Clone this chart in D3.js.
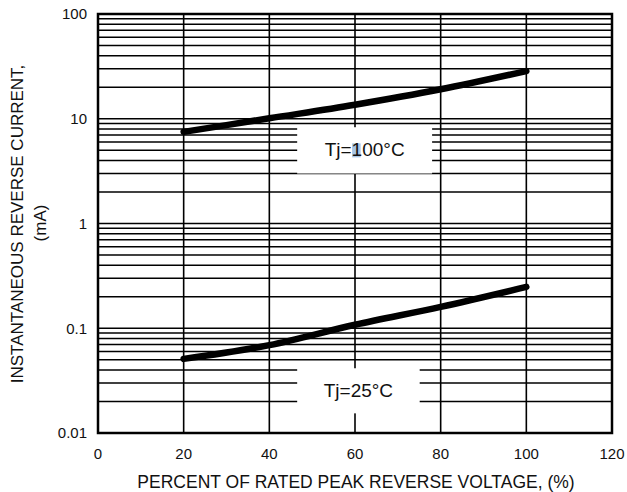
<!DOCTYPE html>
<html>
<head>
<meta charset="utf-8">
<script src="https://cdn.jsdelivr.net/npm/d3@7"></script>
<style>
    body { margin: 0; background: #fff; }
    text { font-family: Arial, "Liberation Sans", sans-serif; fill: #111; }
</style>
</head>
<body>
<div id="chart"></div>
<script>
// x axis ticks (percent of rated peak reverse voltage)
const xTicks = [0, 20, 40, 60, 80, 100, 120];
const yTicks = [0.01, 0.1, 1, 10, 100];
const yTickLabels = ["0.01", "0.1", "1", "10", "100"];

// curves
const percent = [20, 40, 60, 80, 100];
const current100 = [7.5, 10.1, 13.6, 19.1, 28.5];
const current25 = [0.051, 0.069, 0.108, 0.160, 0.248];

// label boxes, in data units: [x0, x1, yTop, yBottom]
const labels = ["Tj=100°C", "Tj=25°C"];
const labelBoxes = [[46.5, 78, 8.3, 3.0], [46.5, 75.1, 0.0415, 0.0154]];

function drawChart() {
    const totalW = 627, totalH = 492;
    const margin = { top: 14, right: 15, bottom: 59, left: 98 };
    const width = totalW - margin.left - margin.right;
    const height = totalH - margin.top - margin.bottom;

    const svg = d3.select("#chart")
        .append("svg")
        .attr("width", totalW)
        .attr("height", totalH);

    const g = svg.append("g")
        .attr("transform", "translate(" + margin.left + "," + margin.top + ")");

    const xScale = d3.scaleLinear().domain([0, 120]).range([0, width]);
    const yScale = d3.scaleLog().domain([0.01, 100]).range([height, 0]);

    // horizontal grid: 1..9 in every decade
    const gridVals = [];
    yTicks.slice(0, -1).forEach(d => {
        for (let k = 1; k <= 9; k++) gridVals.push(k * d);
    });
    gridVals.push(100);

    g.selectAll(".hgrid")
        .data(gridVals)
        .enter().append("line")
        .attr("class", "hgrid")
        .attr("x1", 0)
        .attr("x2", width)
        .attr("y1", d => yScale(d))
        .attr("y2", d => yScale(d))
        .attr("stroke", "#000")
        .attr("stroke-width", 1.5);

    g.selectAll(".vgrid")
        .data(xTicks)
        .enter().append("line")
        .attr("class", "vgrid")
        .attr("x1", d => xScale(d))
        .attr("x2", d => xScale(d))
        .attr("y1", 0)
        .attr("y2", height)
        .attr("stroke", "#000")
        .attr("stroke-width", 1.6);

    // border
    g.append("rect")
        .attr("width", width)
        .attr("height", height)
        .attr("fill", "none")
        .attr("stroke", "#000")
        .attr("stroke-width", 2.5);

    // white label boxes over the grid
    labelBoxes.forEach((b, i) => {
        const x0 = xScale(b[0]), x1 = xScale(b[1]);
        const y0 = yScale(b[2]), y1 = yScale(b[3]);
        g.append("rect")
            .attr("x", x0)
            .attr("y", y0)
            .attr("width", x1 - x0)
            .attr("height", y1 - y0)
            .attr("fill", "#fff");
        const t = g.append("text")
            .attr("x", (x0 + x1) / 2)
            .attr("y", (y0 + y1) / 2 + 6)
            .attr("text-anchor", "middle")
            .style("font-size", "19px")
            .text(labels[i]);
        if (i == 0) {
            // little selection highlight on the first "1"
            const ext = t.node().getExtentOfChar(3);
            g.insert("rect", "text")
                .attr("x", ext.x + 0.5)
                .attr("y", (y0 + y1) / 2 - 7)
                .attr("width", ext.width - 2)
                .attr("height", 14)
                .attr("fill", "#a8c6e6");
        }
    });

    // curves
    const line = d3.line()
        .x((d, i) => xScale(percent[i]))
        .y(d => yScale(d))
        .curve(d3.curveMonotoneX);

    [current100, current25].forEach(s => {
        g.append("path")
            .attr("d", line(s))
            .attr("fill", "none")
            .attr("stroke", "#000")
            .attr("stroke-width", 6.5)
            .attr("stroke-linecap", "round");
    });

    // tick labels
    g.selectAll(".ylab")
        .data(yTicks)
        .enter().append("text")
        .attr("class", "ylab")
        .attr("x", -11)
        .attr("y", d => yScale(d))
        .attr("dy", "0.35em")
        .attr("text-anchor", "end")
        .style("font-size", "15px")
        .text((d, i) => yTickLabels[i]);

    g.selectAll(".xlab")
        .data(xTicks)
        .enter().append("text")
        .attr("class", "xlab")
        .attr("x", d => xScale(d))
        .attr("y", height + 26)
        .attr("text-anchor", "middle")
        .style("font-size", "15px")
        .text(d => d);

    // axis titles
    svg.append("text")
        .attr("x", 356)
        .attr("y", 488)
        .attr("text-anchor", "middle")
        .style("font-size", "17.5px")
        .text("PERCENT OF RATED PEAK REVERSE VOLTAGE, (%)");

    svg.append("text")
        .attr("transform", "translate(22.5,224) rotate(-90)")
        .attr("text-anchor", "middle")
        .style("font-size", "17px")
        .text("INSTANTANEOUS REVERSE CURRENT,");

    svg.append("text")
        .attr("transform", "translate(45.5,223) rotate(-90)")
        .attr("text-anchor", "middle")
        .style("font-size", "17px")
        .text("(mA)");
}

drawChart();
</script>
</body>
</html>
